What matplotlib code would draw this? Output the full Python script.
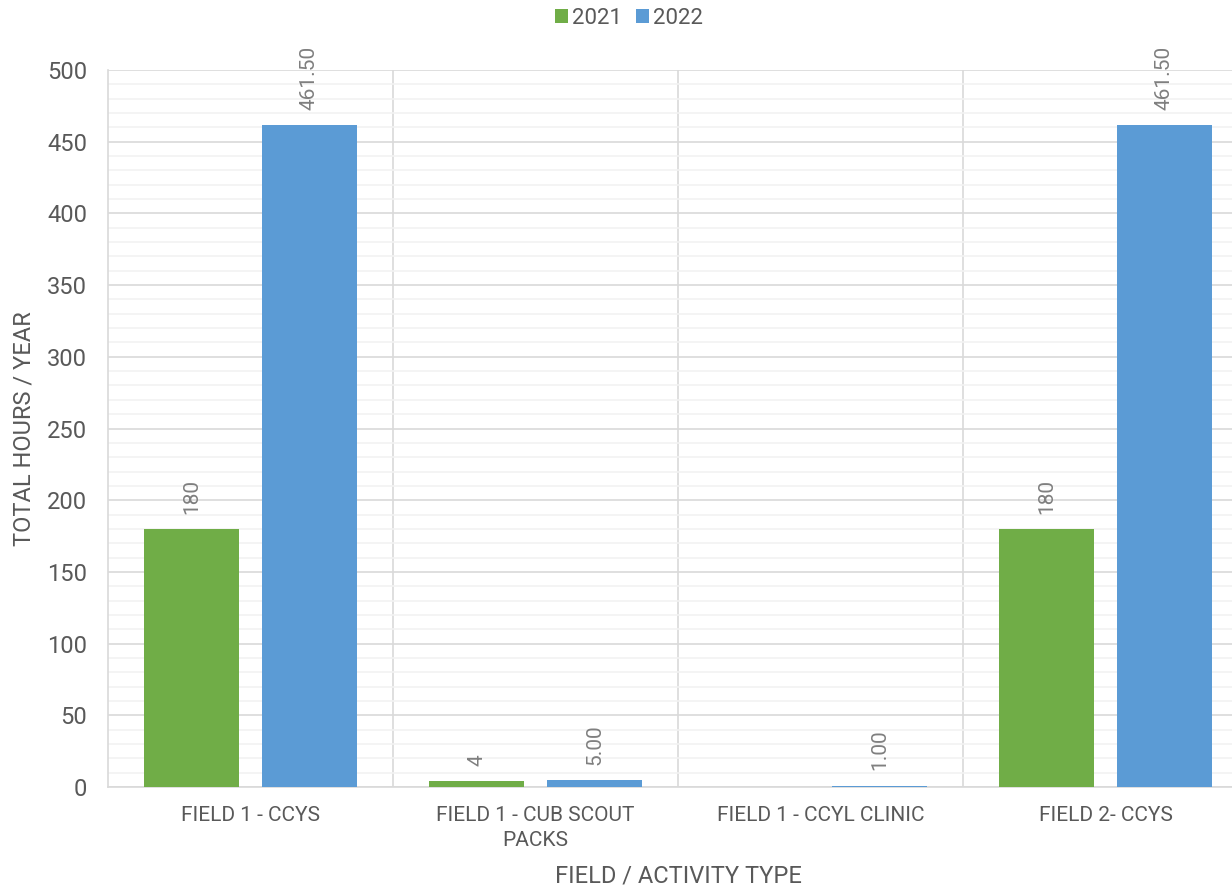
import numpy as np
import matplotlib.pyplot as plt
from matplotlib.ticker import MultipleLocator

plt.rcParams['font.family'] = ['Roboto', 'DejaVu Sans']

# Dados
categorias = ['FIELD 1 - CCYS', 'FIELD 1 - CUB SCOUT\nPACKS', 'FIELD 1 - CCYL CLINIC', 'FIELD 2- CCYS']
horas_2021 = [180, 4, 0, 180]
horas_2022 = [461.50, 5.00, 1.00, 461.50]
rotulos_2021 = ['180', '4', '', '180']
rotulos_2022 = ['461.50', '5.00', '1.00', '461.50']

cor_2021 = '#70AD47'
cor_2022 = '#5B9BD5'
cinza = '#595959'

fig = plt.figure(figsize=(12.32, 8.89), dpi=100)
ax = fig.add_axes([108 / 1232, 1 - 787 / 889, 1140 / 1232, (787 - 70) / 889])

x = np.arange(len(categorias))
largura = 0.333
desloc = 0.207

b1 = ax.bar(x - desloc, horas_2021, largura, color=cor_2021, label='2021', zorder=3)
b2 = ax.bar(x + desloc, horas_2022, largura, color=cor_2022, label='2022', zorder=3)

for barras, rotulos in ((b1, rotulos_2021), (b2, rotulos_2022)):
    for barra, txt in zip(barras, rotulos):
        if not txt:
            continue
        ax.annotate(txt, (barra.get_x() + barra.get_width() / 2, barra.get_height()),
                    xytext=(0, 11), textcoords='offset points', rotation=90,
                    ha='center', va='bottom', fontsize=15, color='#7F7F7F')

ax.set_xlim(-0.5, len(categorias) - 0.5)
ax.set_ylim(0, 500)
ax.yaxis.set_major_locator(MultipleLocator(50))
ax.yaxis.set_minor_locator(MultipleLocator(10))
ax.grid(axis='y', which='major', color='#D9D9D9', linewidth=1.2, zorder=0)
ax.grid(axis='y', which='minor', color='#F2F2F2', linewidth=1.2, zorder=0)
for sep in np.arange(0.5, len(categorias) - 0.5, 1):
    ax.axvline(sep, color='#D9D9D9', linewidth=1.2, zorder=1)

for lado in ['top', 'right']:
    ax.spines[lado].set_visible(False)
ax.spines['left'].set_color('#D9D9D9')
ax.spines['bottom'].set_color('#D9D9D9')
ax.spines['left'].set_linewidth(1.2)
ax.spines['bottom'].set_linewidth(1.2)

ax.set_xticks(x)
ax.set_xticklabels(categorias, fontsize=15, color=cinza, linespacing=1.4)
ax.tick_params(axis='x', length=0, pad=14)
ax.tick_params(axis='y', which='both', length=0, labelsize=17, labelcolor=cinza, pad=15)

ax.set_xlabel('FIELD / ACTIVITY TYPE', fontsize=17, color=cinza)
ax.xaxis.set_label_coords(570 / 1140, -78 / 717)
ax.set_ylabel('TOTAL HOURS / YEAR', fontsize=17, color=cinza)
ax.yaxis.set_label_coords(-72 / 1140, 0.5)

fig.legend(handles=[b1, b2], labels=['2021', '2022'], loc='center',
           bbox_to_anchor=(629 / 1232, 1 - 18 / 889), ncol=2, frameon=False, fontsize=16,
           handlelength=0.6, handleheight=0.6, handletextpad=0.2, columnspacing=0.6,
           labelcolor=cinza)

fig.savefig('out.png', dpi=100)
